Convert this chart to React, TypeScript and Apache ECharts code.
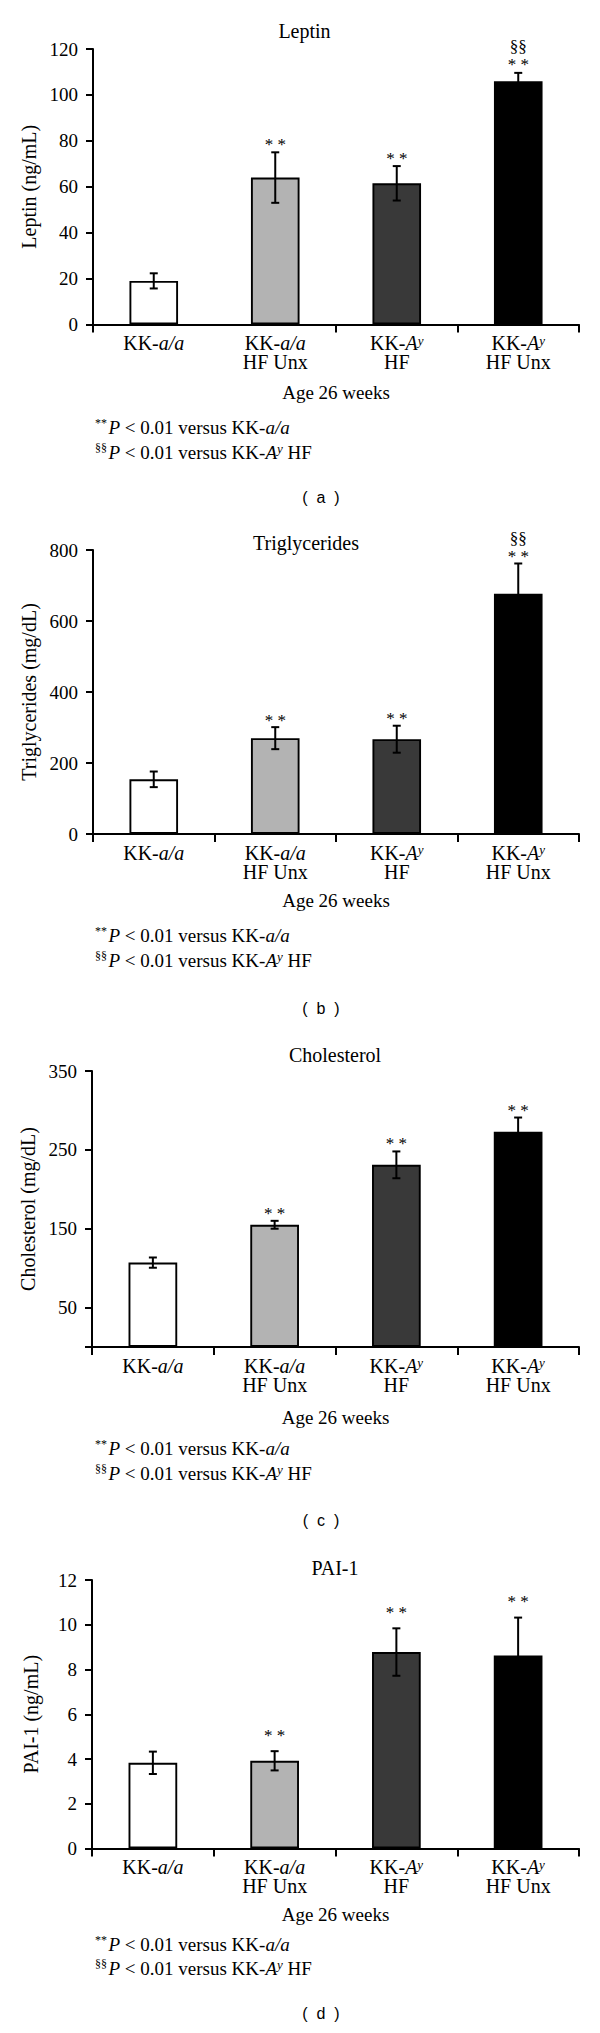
import { useEffect, useRef } from 'react';
import * as echarts from 'echarts';

// ---------- data ----------
const categoryLabels = [
  'KK-{i|a/a}',
  'KK-{i|a/a}\nHF Unx',
  'KK-{i|A}{sup|y}\nHF',
  'KK-{i|A}{sup|y}\nHF Unx',
];
const barColors = ['#ffffff', '#b3b3b3', '#393939', '#000000'];

const leptinMean = [19, 64, 61.5, 106];
const leptinErr = [3.3, 11, 7.5, 3.6];
const leptinStars = ['', '* *', '* *', '* *'];
const leptinSections = ['', '', '', '§§'];
const leptinTicks = [0, 20, 40, 60, 80, 100, 120];

const trigMean = [154, 270, 267, 677];
const trigErr = [22, 31, 38, 85];
const trigStars = ['', '* *', '* *', '* *'];
const trigSections = ['', '', '', '§§'];
const trigTicks = [0, 200, 400, 600, 800];

const cholMean = [107, 155, 231, 273];
const cholErr = [6.5, 5, 17, 18];
const cholStars = ['', '* *', '* *', '* *'];
const cholSections = ['', '', '', ''];
const cholTicks = [50, 150, 250, 350];

const paiMean = [3.83, 3.92, 8.78, 8.63];
const paiErr = [0.5, 0.43, 1.06, 1.69];
const paiStars = ['', '* *', '* *', '* *'];
const paiSections = ['', '', '', ''];
const paiTicks = [0, 2, 4, 6, 8, 10, 12];

const titles = ['Leptin', 'Triglycerides', 'Cholesterol', 'PAI-1'];
const yNames = ['Leptin (ng/mL)', 'Triglycerides (mg/dL)', 'Cholesterol (mg/dL)', 'PAI-1 (ng/mL)'];
const xName = 'Age 26 weeks';
const footnote1 = '{sup|**}{sp| }{it|P} < 0.01 versus KK-{it|a/a}';
const footnote2 = '{sup|§§}{sp| }{it|P} < 0.01 versus KK-{it|A}{sup2|y} HF';
const panelLetters = ['(  a  )', '(  b  )', '(  c  )', '(  d  )'];

// ---------- layout ----------
const FONT = 'Liberation Serif';
const layout = [
  { left: 93, top: 49, height: 275.5, titleX: 304.5, titleY: 31, xGap: 58, starOff: 11, foot: [427, 452], letterY: 497, skipTick: 1 },
  { left: 93, top: 550, height: 284, titleX: 306, titleY: 542.5, xGap: 56.5, starOff: 10, foot: [935, 960], letterY: 1008, skipTick: -1 },
  { left: 92, top: 1071, height: 276, titleX: 335, titleY: 1055, xGap: 61, starOff: 10.5, foot: [1448, 1473], letterY: 1520, skipTick: -1 },
  { left: 92, top: 1580, height: 268.5, titleX: 335, titleY: 1568, xGap: 56, starOff: 19, foot: [1944, 1968], letterY: 2013, skipTick: -1 },
];

const panels = [
  { mean: leptinMean, err: leptinErr, stars: leptinStars, sections: leptinSections, ticks: leptinTicks },
  { mean: trigMean, err: trigErr, stars: trigStars, sections: trigSections, ticks: trigTicks },
  { mean: cholMean, err: cholErr, stars: cholStars, sections: cholSections, ticks: cholTicks },
  { mean: paiMean, err: paiErr, stars: paiStars, sections: paiSections, ticks: paiTicks },
];

function buildOption() {
  const grid: any[] = [];
  const xAxis: any[] = [];
  const yAxis: any[] = [];
  const series: any[] = [];
  const graphic: any[] = [];

  panels.forEach((p, k) => {
    const L = layout[k];
    grid.push({ left: L.left, top: L.top, width: 579 - L.left, height: L.height, containLabel: false });
    xAxis.push({
      type: 'category',
      gridIndex: k,
      data: categoryLabels,
      boundaryGap: true,
      name: xName,
      nameLocation: 'middle',
      nameGap: L.xGap,
      nameTextStyle: { fontFamily: FONT, fontSize: 19, color: '#000' },
      axisLine: { lineStyle: { color: '#000', width: 2 } },
      axisTick: {
        show: true,
        length: 8,
        lineStyle: { color: '#000', width: 2 },
        interval: (index: number) => index !== L.skipTick,
      },
      axisLabel: {
        interval: 0,
        margin: 9,
        fontFamily: FONT,
        fontSize: 20,
        lineHeight: 19,
        color: '#000',
        rich: {
          i: { fontFamily: FONT, fontSize: 20, fontStyle: 'italic', lineHeight: 19, color: '#000' },
          sup: { fontFamily: FONT, fontSize: 13, fontStyle: 'italic', lineHeight: 9, verticalAlign: 'top', color: '#000' },
        },
      },
      splitLine: { show: false },
    });
    const ticks = p.ticks;
    const tickVals = ticks[0] === 0 ? ticks : [0, ...ticks];
    yAxis.push({
      type: 'value',
      gridIndex: k,
      min: 0,
      max: ticks[ticks.length - 1],
      name: yNames[k],
      nameLocation: 'middle',
      nameRotate: 90,
      nameGap: 51,
      nameTextStyle: { fontFamily: FONT, fontSize: 20, color: '#000' },
      axisLine: { show: true, lineStyle: { color: '#000', width: 2 } },
      axisTick: { show: true, length: 7, lineStyle: { color: '#000', width: 2 }, customValues: tickVals },
      axisLabel: { fontFamily: FONT, fontSize: 19, color: '#000', margin: 15, customValues: ticks },
      splitLine: { show: false },
    });
    series.push({
      type: 'bar',
      xAxisIndex: k,
      yAxisIndex: k,
      barWidth: '40%',
      data: p.mean.map((v, j) => ({ value: v, itemStyle: { color: barColors[j] } })),
      itemStyle: { borderColor: '#000', borderWidth: 1.9 },
      z: 2,
    });
    series.push({
      type: 'custom',
      xAxisIndex: k,
      yAxisIndex: k,
      z: 5,
      data: p.mean.map((m, j) => [j, m, p.err[j]]),
      encode: { x: 0, y: 1 },
      renderItem: (params: any, api: any) => {
        const j = api.value(0) as number;
        const m = api.value(1) as number;
        const e = api.value(2) as number;
        const top = api.coord([j, m + e]);
        const bot = api.coord([j, m - e]);
        const cx = top[0];
        const cap = 4;
        const st = { stroke: '#000', lineWidth: 2 };
        const children: any[] = [
          { type: 'line', shape: { x1: cx, y1: top[1], x2: cx, y2: bot[1] }, style: st },
          { type: 'line', shape: { x1: cx - cap, y1: top[1], x2: cx + cap, y2: top[1] }, style: st },
          { type: 'line', shape: { x1: cx - cap, y1: bot[1], x2: cx + cap, y2: bot[1] }, style: st },
        ];
        const starY = top[1] - L.starOff;
        if (p.stars[j]) {
          children.push({
            type: 'text',
            x: cx,
            y: starY + 3,
            style: { text: p.stars[j], fontFamily: FONT, fontSize: 17, fill: '#000', align: 'center', verticalAlign: 'middle' },
          });
        }
        if (p.sections[j]) {
          children.push({
            type: 'text',
            x: cx,
            y: starY - 15,
            style: { text: p.sections[j], fontFamily: FONT, fontSize: 17, fill: '#000', align: 'center', verticalAlign: 'middle' },
          });
        }
        return { type: 'group', children };
      },
    });

    graphic.push({
      type: 'text',
      x: L.titleX,
      y: L.titleY,
      style: { text: titles[k], fontFamily: FONT, fontSize: 20, fill: '#000', align: 'center', verticalAlign: 'middle' },
    });
    const richFoot = {
      sup: { fontFamily: FONT, fontSize: 12, lineHeight: 10, verticalAlign: 'top', fill: '#000' },
      sup2: { fontFamily: FONT, fontSize: 13, fontStyle: 'italic', lineHeight: 10, verticalAlign: 'top', fill: '#000' },
      it: { fontFamily: FONT, fontSize: 19, fontStyle: 'italic', lineHeight: 20, fill: '#000' },
      sp: { fontFamily: FONT, fontSize: 6, lineHeight: 20, fill: '#000' },
    };
    graphic.push({
      type: 'text',
      x: 95,
      y: L.foot[0],
      style: { text: footnote1, fontFamily: FONT, fontSize: 19, lineHeight: 20, fill: '#000', align: 'left', verticalAlign: 'middle', rich: richFoot },
    });
    graphic.push({
      type: 'text',
      x: 95,
      y: L.foot[1],
      style: { text: footnote2, fontFamily: FONT, fontSize: 19, lineHeight: 20, fill: '#000', align: 'left', verticalAlign: 'middle', rich: richFoot },
    });
    graphic.push({
      type: 'text',
      x: 321,
      y: L.letterY,
      style: { text: panelLetters[k], fontFamily: 'Liberation Sans', fontSize: 16, fill: '#000', align: 'center', verticalAlign: 'middle' },
    });
  });

  return {
    animation: false,
    backgroundColor: '#ffffff',
    grid,
    xAxis,
    yAxis,
    series,
    graphic,
  };
}

export default function App() {
  const ref = useRef<HTMLDivElement>(null);
  useEffect(() => {
    if (!ref.current) return;
    const chart = echarts.init(ref.current, undefined, { renderer: 'svg' });
    chart.setOption(buildOption() as any);
    return () => {
      chart.dispose();
    };
  }, []);
  return (
    <div
      ref={ref}
      style={{ position: 'absolute', left: 0, top: 0, width: 600, height: 2033, background: '#fff' }}
    />
  );
}
